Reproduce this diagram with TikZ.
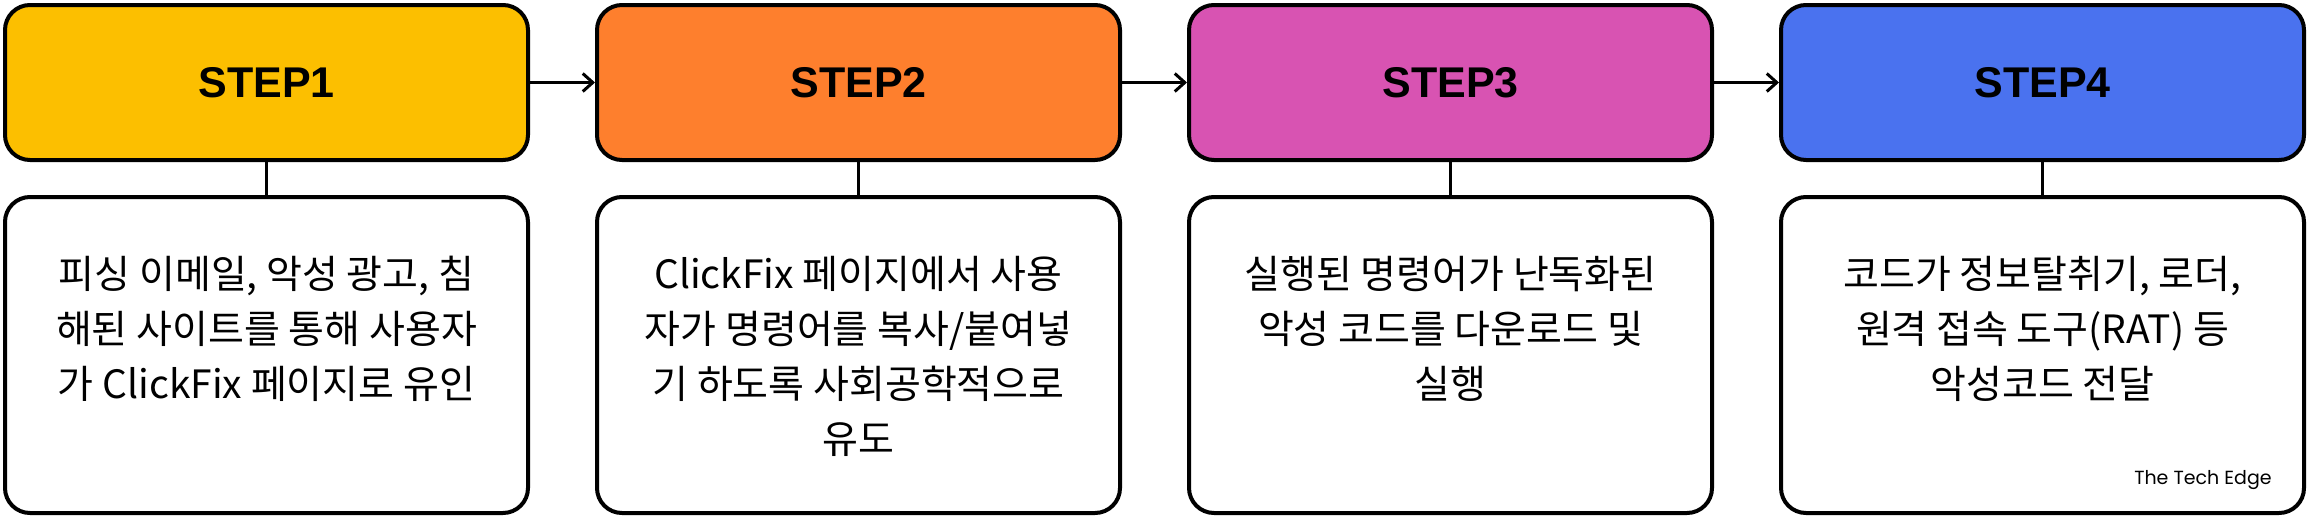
\documentclass[tikz,border=0pt]{standalone}
\usepackage{fontspec}
\usetikzlibrary{arrows.meta}
\newfontfamily\krfont{Noto Sans CJK KR}
\newfontfamily\stepfont{Liberation Sans}
\newfontfamily\brandfont{Poppins}
\definecolor{cA}{HTML}{FCBF00}
\definecolor{cB}{HTML}{FE7F2D}
\definecolor{cC}{HTML}{D853B2}
\definecolor{cD}{HTML}{4A72EF}
\tikzset{
  stepbox/.style={draw=black, line width=2pt, rounded corners=12.5pt,
    minimum width=261.5pt, minimum height=77.5pt, inner sep=0pt,
    font=\stepfont\bfseries\fontsize{21.5pt}{26pt}\selectfont},
  descbox/.style={draw=black, fill=white, line width=2pt, rounded corners=12.5pt,
    minimum width=261.5pt, minimum height=158pt, inner sep=0pt},
  desctext/.style={anchor=north, inner sep=0pt, align=center,
    font=\krfont\fontsize{19.5pt}{27.5pt}\selectfont},
  arr/.style={line width=1.5pt, -{Straight Barb[length=5pt,width=9pt,line width=1.5pt]}},
  link/.style={line width=1.5pt}
}
\begin{document}
\begin{tikzpicture}[x=0.5pt,y=-0.5pt]
\useasboundingbox (0,0) rectangle (2312,520);
% top step boxes
\node[stepbox, fill=cA] (s1) at (266.5,82.5) {STEP1};
\node[stepbox, fill=cB] (s2) at (858.5,82.5) {STEP2};
\node[stepbox, fill=cC] (s3) at (1450.5,82.5) {STEP3};
\node[stepbox, fill=cD] (s4) at (2042.5,82.5) {STEP4};
% description boxes
\node[descbox] (d1) at (266.5,355) {};
\node[descbox] (d2) at (858.5,355) {};
\node[descbox] (d3) at (1450.5,355) {};
\node[descbox] (d4) at (2042.5,355) {};
% texts
\node[desctext] (t1) at (266.5,248) {\rule{0pt}{20pt}피싱 이메일, 악성 광고, 침\\해된 사이트를 통해 사용자\\가 ClickFix 페이지로 유인};
\node[desctext] (t2) at (858.5,248) {\rule{0pt}{20pt}ClickFix 페이지에서 사용\\자가 명령어를 복사/붙여넣\\기 하도록 사회공학적으로\\유도};
\node[desctext] (t3) at (1450.5,248) {\rule{0pt}{20pt}실행된 명령어가 난독화된\\악성 코드를 다운로드 및\\실행};
\node[desctext] (t4) at (2042.5,248) {\rule{0pt}{20pt}코드가 정보탈취기, 로더,\\원격 접속 도구(RAT) 등\\악성코드 전달};
\node[anchor=base east, inner sep=0pt, font=\brandfont\fontsize{9.5pt}{11pt}\selectfont] (brand) at (2272,484) {The Tech Edge};
% connectors
\draw[arr] (s1.east) -- (s2.west);
\draw[arr] (s2.east) -- (s3.west);
\draw[arr] (s3.east) -- (s4.west);
\draw[link] (s1.south) -- (d1.north);
\draw[link] (s2.south) -- (d2.north);
\draw[link] (s3.south) -- (d3.north);
\draw[link] (s4.south) -- (d4.north);
\end{tikzpicture}
\end{document}
